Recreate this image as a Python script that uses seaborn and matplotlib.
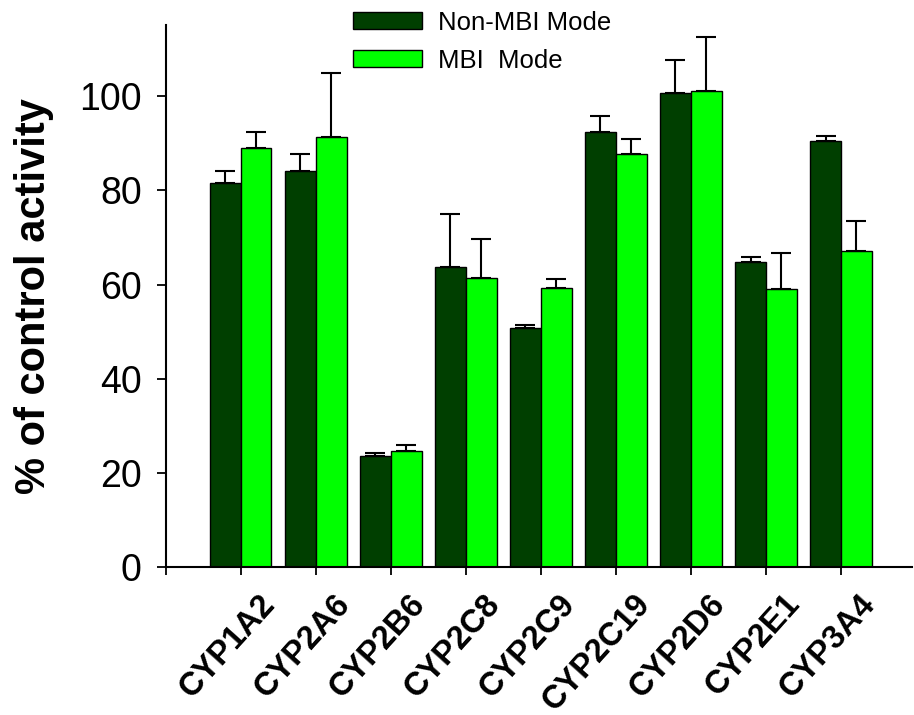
import numpy as np
import pandas as pd
import matplotlib
matplotlib.use("Agg")
import matplotlib.pyplot as plt
import matplotlib.transforms as mtransforms
import seaborn as sns

# Enzyme isoforms on the x axis
categories = ["CYP1A2", "CYP2A6", "CYP2B6", "CYP2C8", "CYP2C9",
              "CYP2C19", "CYP2D6", "CYP2E1", "CYP3A4"]
series_names = ["Non-MBI Mode", "MBI  Mode"]

# Mean % of control activity and upper SD for each mode
non_mbi_mean = [81.5, 84.0, 23.7, 63.8, 50.7, 92.4, 100.7, 64.7, 90.4]
non_mbi_sd = [2.7, 3.8, 0.6, 11.1, 0.8, 3.4, 7.0, 1.1, 1.2]
mbi_mean = [89.0, 91.4, 24.6, 61.5, 59.3, 87.7, 101.1, 59.1, 67.1]
mbi_sd = [3.4, 13.6, 1.3, 8.2, 1.9, 3.2, 11.4, 7.7, 6.3]

y_ticks = [0, 20, 40, 60, 80, 100]
colors = ["#003f00", "#00ff00"]

df = pd.DataFrame({
    "enzyme": categories * 2,
    "mode": [series_names[0]] * len(categories) + [series_names[1]] * len(categories),
    "activity": non_mbi_mean + mbi_mean,
    "sd": non_mbi_sd + mbi_sd,
})

sns.set_style("white")
plt.rcParams["font.family"] = ["Liberation Sans", "DejaVu Sans"]
plt.rcParams["text.color"] = "black"
plt.rcParams["axes.labelcolor"] = "black"
plt.rcParams["xtick.color"] = "black"
plt.rcParams["ytick.color"] = "black"

fig = plt.figure(figsize=(9.14, 7.15), dpi=100)
ax = fig.add_axes([0.1813, 0.2065, 0.8167, 0.758])

sns.barplot(data=df, x="enzyme", y="activity", hue="mode", order=categories,
            hue_order=series_names, palette=colors, width=0.82, errorbar=None,
            edgecolor="black", linewidth=1.0, saturation=1, ax=ax)

# upper error bars taken from each drawn bar
for container, name in zip(ax.containers, series_names):
    sub = df[df["mode"] == name].set_index("enzyme").loc[categories]
    xs = [p.get_x() + p.get_width() / 2 for p in container.patches]
    hs = [p.get_height() for p in container.patches]
    ax.errorbar(xs, hs, yerr=[np.zeros(len(xs)), sub["sd"].values],
                fmt="none", ecolor="black", elinewidth=1.5, capsize=7.5,
                capthick=1.5, zorder=1)

ax.set_xlim(-1, 8.95)
ax.set_ylim(0, 115)
ax.set_yticks(y_ticks)
ax.set_yticklabels([str(t) for t in y_ticks], fontsize=27)
ax.set_xticks(range(-1, len(categories)))
ax.set_xticklabels([""] + categories, fontsize=23.5, fontweight="bold",
                   rotation=48, ha="right", rotation_mode="anchor")
ax.tick_params(axis="x", direction="out", length=6, width=1.3, pad=6,
               bottom=True)
ax.tick_params(axis="y", direction="out", length=6.3, width=1.3, pad=11,
               left=True)

# shift the slanted category names right and down from their ticks
shift = mtransforms.ScaledTranslation(29 / 100, -15 / 100, fig.dpi_scale_trans)
for lab in ax.get_xticklabels():
    lab.set_va("center")
    lab.set_transform(lab.get_transform() + shift)

ax.set_xlabel("")
ax.set_ylabel("% of control activity", fontsize=30, fontweight="bold",
              labelpad=18)

sns.despine(ax=ax)
for side in ["left", "bottom"]:
    ax.spines[side].set_linewidth(1.5)
    ax.spines[side].set_color("black")

handles, labels = ax.get_legend_handles_labels()
ax.legend(handles, labels, loc="upper left", bbox_to_anchor=(0.386, 0.985),
          bbox_transform=fig.transFigure, frameon=False, fontsize=18.5,
          handlelength=2.7, handleheight=0.62, handletextpad=0.6,
          labelspacing=0.55, borderpad=0, borderaxespad=0)

fig.savefig("out.png", dpi=100)
